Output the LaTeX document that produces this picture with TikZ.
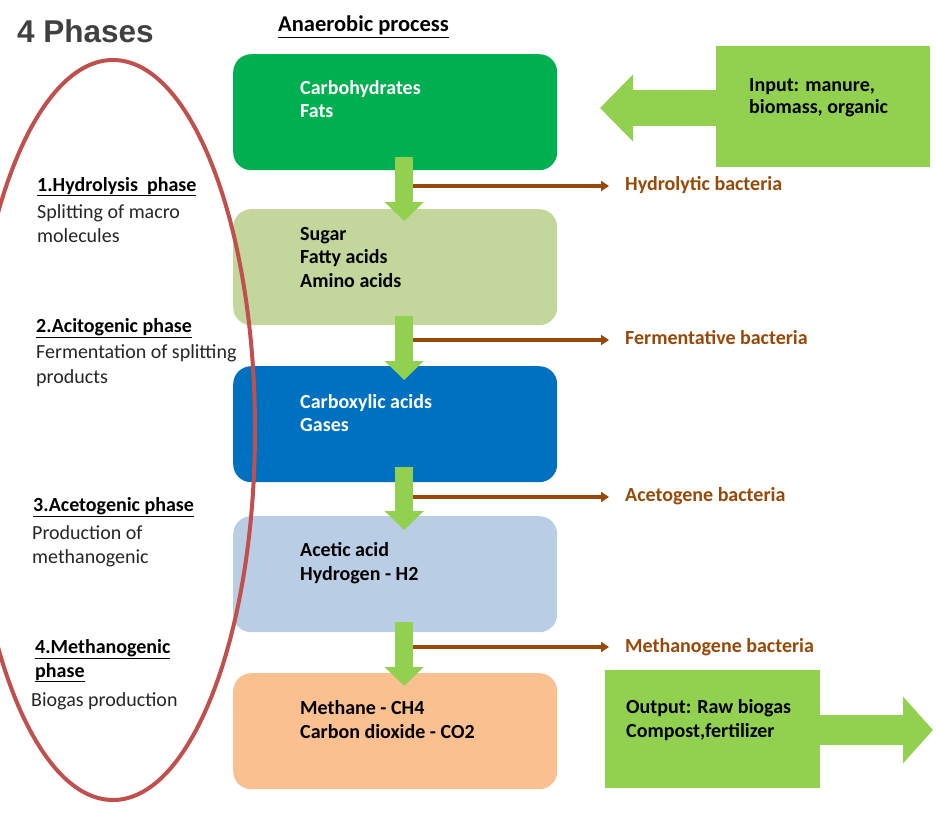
\documentclass[tikz,border=0pt]{standalone}
\usepackage{fontspec}
\setmainfont{Carlito}
\newfontfamily\arialfont{Liberation Sans}
\usetikzlibrary{arrows.meta,calc}
\definecolor{gbox}{HTML}{00B050}
\definecolor{lgbox}{HTML}{C3D69B}
\definecolor{bbox}{HTML}{0070C0}
\definecolor{lbbox}{HTML}{B9CDE5}
\definecolor{obox}{HTML}{FAC090}
\definecolor{garr}{HTML}{92D050}
\definecolor{brn}{HTML}{984807}
\definecolor{redell}{HTML}{C0504D}
\definecolor{titlegray}{HTML}{404040}
\tikzset{
  procbox/.style={rounded corners=18pt, minimum width=324pt, minimum height=116pt, inner sep=0pt, anchor=north west},
  boxtxt/.style={anchor=base west, inner sep=0pt, font=\fontsize{20}{24}\selectfont\bfseries},
  lefttxt/.style={anchor=base west, inner sep=0pt, font=\fontsize{20}{24}\selectfont, text=black!85},
  lefthead/.style={anchor=base west, inner sep=0pt, font=\fontsize{20}{24}\selectfont\bfseries},
  baclbl/.style={anchor=base west, inner sep=0pt, font=\fontsize{20}{24}\selectfont\bfseries, text=brn},
  downarrow/.style={draw=garr, line width=18pt, -{Triangle[length=19pt,width=38pt]}},
  bacarrow/.style={draw=brn, line width=3.5pt, -{Triangle[length=8pt,width=10pt]}, shorten >=16pt},
}
\begin{document}
\begin{tikzpicture}[x=1pt,y=-1pt]
\useasboundingbox[fill=white] (0,0) rectangle (936,829);

% titles
\node[anchor=base west, inner sep=0pt, font=\arialfont\fontsize{31.5}{34}\selectfont\bfseries, text=titlegray] (title) at (17,43) {4 Phases};
\node[anchor=base west, inner sep=0pt, font=\fontsize{22.5}{26}\selectfont\bfseries] (anaer) at (278,32) {\underline{Anaerobic process}};

% process boxes
\node[procbox, fill=gbox] (b1) at (233,54) {};
\node[procbox, fill=lgbox] (b2) at (233,209) {};
\node[procbox, fill=bbox] (b3) at (233,366) {};
\node[procbox, fill=lbbox] (b4) at (233,516) {};
\node[procbox, fill=obox] (b5) at (233,673) {};

\node[boxtxt, text=white] (t11) at (300,95) {Carbohydrates};
\node[boxtxt, text=white] (t12) at (300,118) {Fats};
\node[boxtxt] (t21) at (300,240) {Sugar};
\node[boxtxt] (t22) at (300,263) {Fatty acids};
\node[boxtxt] (t23) at (300,287) {Amino acids};
\node[boxtxt, text=white] (t31) at (300,408) {Carboxylic acids};
\node[boxtxt, text=white] (t32) at (300,431) {Gases};
\node[boxtxt] (t41) at (300,556) {Acetic acid};
\node[boxtxt] (t42) at (300,580) {Hydrogen - H2};
\node[boxtxt] (t51) at (300,714) {Methane - CH4};
\node[boxtxt] (t52) at (300,738) {Carbon dioxide - CO2};

% green down arrows
\draw[downarrow] ([shift={(9,-13)}]b1.south) -- ([shift={(9,12)}]b2.north);
\draw[downarrow] ([shift={(9,-9)}]b2.south) -- ([shift={(9,14)}]b3.north);
\draw[downarrow] ([shift={(9,-15)}]b3.south) -- ([shift={(9,14)}]b4.north);
\draw[downarrow] ([shift={(9,-10)}]b4.south) -- ([shift={(9,13)}]b5.north);

% bacteria labels and arrows
\node[baclbl] (l1) at (625,190) {Hydrolytic bacteria};
\node[baclbl] (l2) at (625,344) {Fermentative bacteria};
\node[baclbl] (l3) at (625,501) {Acetogene bacteria};
\node[baclbl] (l4) at (625,652) {Methanogene bacteria};
\coordinate (j1) at (413,186);
\coordinate (j2) at (413,340);
\coordinate (j3) at (413,497);
\coordinate (j4) at (413,647);
\draw[bacarrow] (j1) -- (j1 -| l1.west);
\draw[bacarrow] (j2) -- (j2 -| l2.west);
\draw[bacarrow] (j3) -- (j3 -| l3.west);
\draw[bacarrow] (j4) -- (j4 -| l4.west);

% input
\node[fill=garr, minimum width=214pt, minimum height=121pt, inner sep=0pt, anchor=north west] (inbox) at (716,46) {};
\node[boxtxt] (in1) at (749,92) {Input: manure,};
\node[boxtxt] (in2) at (749,114) {biomass, organic};
\coordinate (intip) at (600,108);
\draw[draw=garr, line width=36pt, -{Triangle[length=33pt,width=65pt]}] (inbox.west |- intip) -- (intip);

% output
\node[fill=garr, minimum width=215pt, minimum height=118pt, inner sep=0pt, anchor=north west] (outbox) at (605,670) {};
\node[boxtxt] (o1) at (626,713) {Output: Raw biogas};
\node[boxtxt] (o2) at (626,737) {Compost,fertilizer};
\coordinate (outtip) at (933,730);
\draw[draw=garr, line width=30pt, -{Triangle[length=30pt,width=65pt]}] (outbox.east |- outtip) -- (outtip);

% left phase texts
\node[lefthead] (p1) at (37,191) {\underline{1.Hydrolysis\ \ phase}};
\node[lefttxt] (p1a) at (37,218) {Splitting of macro};
\node[lefttxt] (p1b) at (37,242) {molecules};
\node[lefthead] (p2) at (36,332) {\underline{2.Acitogenic phase}};
\node[lefttxt] (p2a) at (36,358) {Fermentation of splitting};
\node[lefttxt] (p2b) at (36,383) {products};
\node[lefthead] (p3) at (33,511) {\underline{3.Acetogenic phase}};
\node[lefttxt] (p3a) at (32,539) {Production of};
\node[lefttxt] (p3b) at (32,563) {methanogenic};
\node[lefthead] (p4) at (35,653) {\underline{4.Methanogenic}};
\node[lefthead] (p4b) at (35,677) {\underline{phase}};
\node[lefttxt] (p4c) at (31,706) {Biogas production};

% ellipse
\draw[draw=redell, line width=4pt] (113,430) ellipse [x radius=142pt, y radius=370pt];
\end{tikzpicture}
\end{document}
